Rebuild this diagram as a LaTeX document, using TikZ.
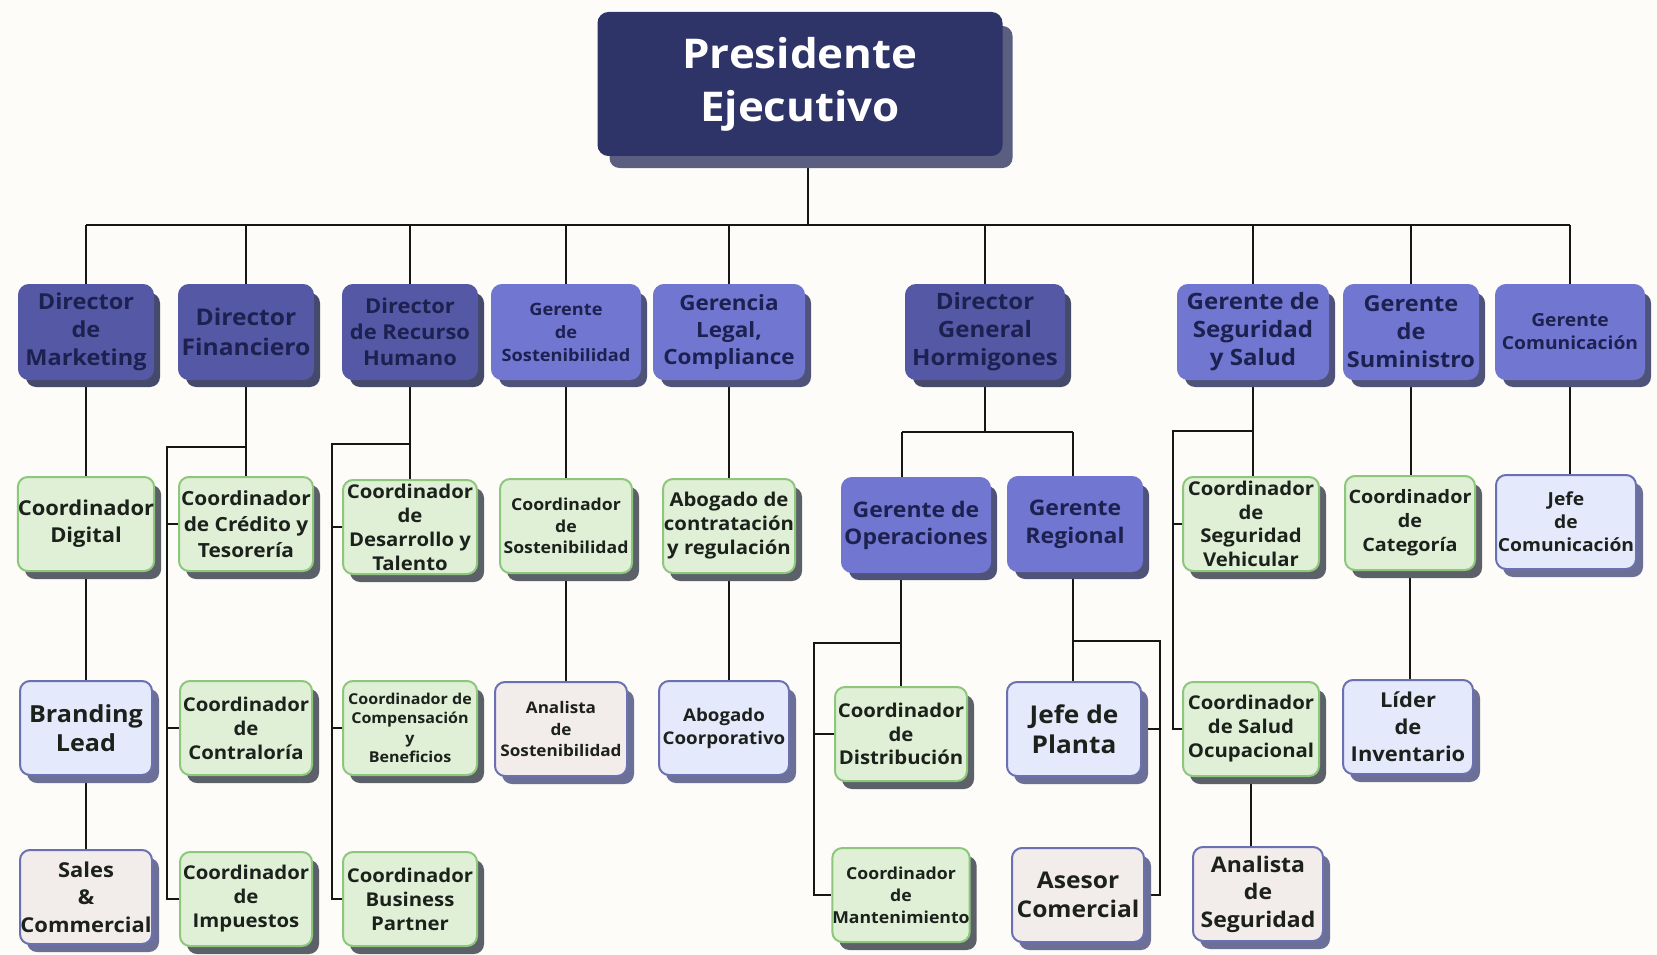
\documentclass[tikz,border=0pt]{standalone}
\usepackage{fontspec}
\setmainfont{Open Sans}[FakeStretch=1.07]
\usetikzlibrary{shadows,backgrounds}

\definecolor{bgcol}{HTML}{FDFCF8}
\definecolor{presFill}{HTML}{2E3368}
\definecolor{presShadow}{HTML}{5A5E80}
\definecolor{dirFill}{HTML}{5559A5}
\definecolor{dirShadow}{HTML}{464A6A}
\definecolor{gerFill}{HTML}{7176D1}
\definecolor{gerShadow}{HTML}{4F5379}
\definecolor{grnFill}{HTML}{DFF0D6}
\definecolor{grnDraw}{HTML}{8DC77C}
\definecolor{grnShadow}{HTML}{5C6068}
\definecolor{bluFill}{HTML}{E4E9FB}
\definecolor{bluDraw}{HTML}{6B70B3}
\definecolor{lightShadow}{HTML}{6C7096}
\definecolor{pnkFill}{HTML}{F2ECEB}
\definecolor{navyText}{HTML}{1D2150}
\definecolor{darkText}{HTML}{1C211C}
\definecolor{lineCol}{HTML}{161616}

\newcommand\fz[2]{\fontsize{#1}{#2}\selectfont\bfseries}

\tikzset{
  box/.style={rounded corners=10pt, align=center, inner sep=0pt,
    minimum height=94pt, line width=2pt},
  presbox/.style={box, minimum height=142pt, fill=presFill, draw=presFill, text=white,
    drop shadow={shadow xshift=11pt, shadow yshift=-13pt, fill=presShadow, opacity=1}},
  dirbox/.style={box, fill=dirFill, draw=dirFill, text=navyText,
    drop shadow={shadow xshift=7pt, shadow yshift=-8pt, fill=dirShadow, opacity=1}},
  gerbox/.style={box, fill=gerFill, draw=gerFill, text=navyText,
    drop shadow={shadow xshift=7pt, shadow yshift=-8pt, fill=gerShadow, opacity=1}},
  grnbox/.style={box, fill=grnFill, draw=grnDraw, text=darkText,
    drop shadow={shadow xshift=7pt, shadow yshift=-8pt, fill=grnShadow, opacity=1}},
  blubox/.style={box, fill=bluFill, draw=bluDraw, text=darkText,
    drop shadow={shadow xshift=7pt, shadow yshift=-8pt, fill=lightShadow, opacity=1}},
  pnkbox/.style={box, fill=pnkFill, draw=bluDraw, text=darkText,
    drop shadow={shadow xshift=7pt, shadow yshift=-8pt, fill=lightShadow, opacity=1}},
  conn/.style={draw=lineCol, line width=2.9pt},
}

\begin{document}
\begin{tikzpicture}[x=1pt, y=-1pt]
\useasboundingbox (0,0) rectangle (1657,955);

% --- top
\node[presbox, minimum width=403pt, font=\fz{41}{53}] (pres) at (800,84) {Presidente\\Ejecutivo};

% --- first level
\node[dirbox, minimum width=134pt, font=\fz{22}{28}]   (mkt) at (86,332)   {Director\\de\\Marketing};
\node[dirbox, minimum width=134pt, font=\fz{23}{30}]   (fin) at (246,332)  {Director\\Financiero};
\node[dirbox, minimum width=134pt, font=\fz{20.5}{26}] (rh)  at (410,332)  {Director\\de Recurso\\Humano};
\node[gerbox, minimum width=148pt, font=\fz{17}{23}]   (gso) at (566,332)  {Gerente\\de\\Sostenibilidad};
\node[gerbox, minimum width=150pt, font=\fz{21}{27}]   (gle) at (729,332)  {Gerencia\\Legal,\\Compliance};
\node[dirbox, minimum width=158pt, font=\fz{22.5}{28}] (dg)  at (985,332)  {Director\\General\\Hormigones};
\node[gerbox, minimum width=150pt, font=\fz{22.5}{28}] (gss) at (1253,332) {Gerente de\\Seguridad\\y Salud};
\node[gerbox, minimum width=134pt, font=\fz{22}{28}]   (gsu) at (1411,332) {Gerente\\de\\Suministro};
\node[gerbox, minimum width=148pt, font=\fz{18}{23}]   (gco) at (1570,332) {Gerente\\Comunicación};

% --- second level
\node[grnbox, minimum width=134pt, font=\fz{20.5}{27}]   (cdi)  at (86,524)   {Coordinador\\Digital};
\node[grnbox, minimum width=134pt, font=\fz{19.5}{26}]   (ccr)  at (246,524)  {Coordinador\\de Crédito y\\Tesorería};
\node[grnbox, minimum width=134pt, font=\fz{19}{24}]     (cdt)  at (410,527)  {Coordinador\\de\\Desarrollo y\\Talento};
\node[grnbox, minimum width=132pt, font=\fz{16.5}{21.5}] (cso)  at (566,526)  {Coordinador\\de\\Sostenibilidad};
\node[grnbox, minimum width=132pt, font=\fz{19}{24}]     (cab)  at (729,526)  {Abogado de\\contratación\\y regulación};
\node[gerbox, minimum width=148pt, font=\fz{21.5}{27}]   (gop)  at (916,525)  {Gerente de\\Operaciones};
\node[gerbox, minimum width=134pt, font=\fz{21.5}{28}]   (gre)  at (1075,524) {Gerente\\Regional};
\node[grnbox, minimum width=136pt, font=\fz{19}{23.5}]   (csv)  at (1251,524) {Coordinador\\de\\Seguridad\\Vehicular};
\node[grnbox, minimum width=130pt, font=\fz{18.5}{24}]   (cca)  at (1410,523) {Coordinador\\de\\Categoría};
\node[blubox, minimum width=140pt, font=\fz{18}{23}]     (jco)  at (1566,522) {Jefe\\de\\Comunicación};

% --- third level
\node[blubox, minimum width=132pt, font=\fz{23.5}{28.5}] (brl)  at (86,728)   {Branding\\Lead};
\node[grnbox, minimum width=132pt, font=\fz{19}{24}]     (cct)  at (246,728)  {Coordinador\\de\\Contraloría};
\node[grnbox, minimum width=134pt, font=\fz{15}{19.5}]   (ccb)  at (410,728)  {Coordinador de\\Compensación\\y\\Beneficios};
\node[pnkbox, minimum width=132pt, font=\fz{16}{21.5}]   (ans)  at (561,729)  {Analista\\de\\Sostenibilidad};
\node[blubox, minimum width=130pt, font=\fz{17.5}{23}]   (abc)  at (724,728)  {Abogado\\Coorporativo};
\node[grnbox, minimum width=132pt, font=\fz{19}{23.5}]   (cdis) at (901,734)  {Coordinador\\de\\Distribución};
\node[blubox, minimum width=134pt, font=\fz{24.5}{29.5}] (jpl)  at (1074,729) {Jefe de\\Planta};
\node[grnbox, minimum width=136pt, font=\fz{19}{24}]     (csa)  at (1251,729) {Coordinador\\de Salud\\Ocupacional};
\node[blubox, minimum width=130pt, font=\fz{20.5}{27}]   (lin)  at (1408,727) {Líder\\de\\Inventario};

% --- fourth level
\node[pnkbox, minimum width=132pt, font=\fz{20.5}{27.5}] (sal)  at (86,897)   {Sales\\\&\\Commercial};
\node[grnbox, minimum width=132pt, font=\fz{19}{24}]     (cim)  at (246,899)  {Coordinador\\de\\Impuestos};
\node[grnbox, minimum width=134pt, font=\fz{19}{24}]     (cbp)  at (410,899)  {Coordinador\\Business\\Partner};
\node[grnbox, minimum width=132pt, font=\fz{16.5}{22}]   (cma)  at (901,895)  {Coordinador\\de\\Mantenimiento};
\node[pnkbox, minimum width=132pt, font=\fz{23}{28.5}]   (ase)  at (1078,895) {Asesor\\Comercial};
\node[pnkbox, minimum width=130pt, font=\fz{21.5}{27.5}] (ansg) at (1258,894) {Analista\\de\\Seguridad};

% --- connectors, kept behind the boxes
\begin{pgfonlayer}{background}
  \fill[bgcol] (0,0) rectangle (1657,955);

  % main bus
  \coordinate (pbus) at (808,225);
  \draw[conn] (pbus |- pres.south) -- (pbus);
  \draw[conn] (mkt.north |- pbus) -- (gco.north |- pbus);
  \foreach \n in {mkt,fin,rh,gso,gle,dg,gss,gsu,gco}
    \draw[conn] (\n.north |- pbus) -- (\n.north);

  % marketing
  \draw[conn] (mkt.south) -- (cdi.north);
  \draw[conn] (cdi.south) -- (brl.north);
  \draw[conn] (brl.south) -- (sal.north);

  % finance
  \coordinate (jf) at (246,447);
  \coordinate (tf) at (167,447);
  \draw[conn] (fin.south) -- (ccr.north);
  \draw[conn] (jf) -- (tf) -- (tf |- cim.west) -- (cim.west);
  \draw[conn] (tf |- ccr.west) -- (ccr.west);
  \draw[conn] (tf |- cct.west) -- (cct.west);

  % human resources
  \coordinate (jr) at (410,444);
  \coordinate (tr) at (332,444);
  \draw[conn] (rh.south) -- (cdt.north);
  \draw[conn] (jr) -- (tr) -- (tr |- cbp.west) -- (cbp.west);
  \draw[conn] (tr |- cdt.west) -- (cdt.west);
  \draw[conn] (tr |- ccb.west) -- (ccb.west);

  % sustainability and legal
  \draw[conn] (gso.south) -- (gso.south |- cso.north);
  \draw[conn] (cso.south) -- (cso.south |- ans.north);
  \draw[conn] (gle.south) -- (gle.south |- cab.north);
  \draw[conn] (cab.south) -- (cab.south |- abc.north);

  % concrete division
  \coordinate (jd) at (985,432);
  \coordinate (jdl) at (902,432);
  \coordinate (jdr) at (1073,432);
  \draw[conn] (dg.south) -- (jd);
  \draw[conn] (jdl) -- (jdr);
  \draw[conn] (jdl) -- (jdl |- gop.north);
  \draw[conn] (jdr) -- (jdr |- gre.north);

  % operations
  \coordinate (go) at (901,643);
  \coordinate (tg) at (814,643);
  \draw[conn] (go |- gop.south) -- (go |- cdis.north);
  \draw[conn] (go) -- (tg) -- (tg |- cma.west) -- (cma.west);
  \draw[conn] (tg |- cdis.west) -- (cdis.west);

  % regional
  \coordinate (gr) at (1073,641);
  \coordinate (tgr) at (1160,641);
  \draw[conn] (gr |- gre.south) -- (gr |- jpl.north);
  \draw[conn] (gr) -- (tgr) -- (tgr |- ase.east) -- (ase.east);
  \draw[conn] (tgr |- jpl.east) -- (jpl.east);

  % safety and health
  \coordinate (gs) at (1253,431);
  \coordinate (ts) at (1173,431);
  \draw[conn] (gss.south) -- (gss.south |- csv.north);
  \draw[conn] (gs) -- (ts) -- (ts |- csa.west) -- (csa.west);
  \draw[conn] (ts |- csv.west) -- (csv.west);
  \draw[conn] (csa.south) -- (csa.south |- ansg.north);

  % supply and communication
  \draw[conn] (gsu.south) -- (gsu.south |- cca.north);
  \draw[conn] (cca.south) -- (cca.south |- lin.north);
  \draw[conn] (gco.south) -- (gco.south |- jco.north);
\end{pgfonlayer}
\end{tikzpicture}
\end{document}
